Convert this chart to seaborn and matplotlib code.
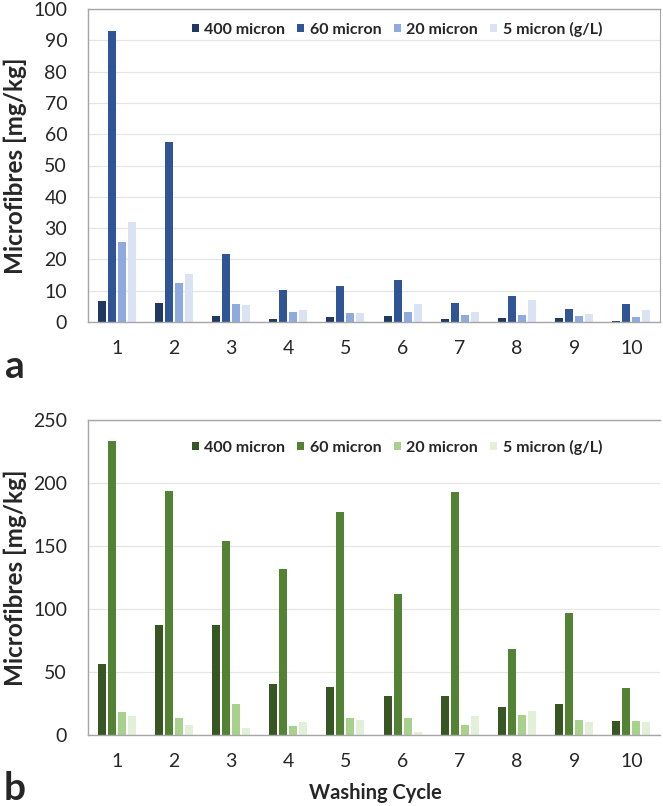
import numpy as np
import pandas as pd
import matplotlib
matplotlib.use("Agg")
import matplotlib.pyplot as plt
import seaborn as sns

# Datos
ciclos = ["1", "2", "3", "4", "5", "6", "7", "8", "9", "10"]
tamanos = ["400 micron", "60 micron", "20 micron", "5 micron (g/L)"]

a_400 = [6.6, 6.2, 1.9, 1.1, 1.7, 2.0, 0.9, 1.2, 1.2, 0.3]
a_60 = [93.0, 57.6, 21.6, 10.3, 11.4, 13.3, 6.2, 8.2, 4.2, 5.7]
a_20 = [25.6, 12.5, 5.7, 3.1, 2.8, 3.1, 2.3, 2.2, 1.9, 1.6]
a_5 = [31.9, 15.2, 5.3, 3.9, 2.9, 5.9, 3.3, 6.9, 2.6, 3.9]

b_400 = [56.6, 87.5, 87.5, 40.6, 37.9, 31.2, 31.2, 21.9, 24.5, 11.2]
b_60 = [233.0, 193.4, 154.2, 131.8, 176.9, 111.8, 192.9, 68.0, 97.1, 37.4]
b_20 = [17.9, 13.3, 24.8, 7.5, 13.3, 13.6, 8.0, 15.7, 12.0, 11.5]
b_5 = [15.2, 8.3, 5.9, 10.1, 12.0, 2.4, 14.9, 18.9, 10.7, 10.7]

azules = ["#203864", "#2F5597", "#8FAADC", "#DAE3F3"]
verdes = ["#375623", "#548235", "#A9D18E", "#E2F0D9"]


def to_long(series):
    rows = []
    for tam, vals in zip(tamanos, series):
        for c, v in zip(ciclos, vals):
            rows.append({"Ciclo": c, "Tamano": tam, "Valor": v})
    return pd.DataFrame(rows)


df_a = to_long([a_400, a_60, a_20, a_5])
df_b = to_long([b_400, b_60, b_20, b_5])

sns.set_style("white")
plt.rcParams["font.family"] = ["Lato", "DejaVu Sans"]

fig = plt.figure(figsize=(6.63, 8.06), dpi=100)
ax_a = fig.add_axes([88 / 663, 1 - 322 / 806, 572 / 663, 313 / 806])
ax_b = fig.add_axes([88 / 663, 1 - 735 / 806, 572 / 663, 315 / 806])

gris = "#A6A6A6"


def panel(ax, df, colores, ymax, paso, leg_y):
    sns.barplot(data=df, x="Ciclo", y="Valor", hue="Tamano", hue_order=tamanos,
                palette=colores, width=0.7, gap=0.2, ax=ax, saturation=1,
                errorbar=None, linewidth=0)
    ax.set_ylim(0, ymax)
    ax.set_xlim(-0.5, 9.5)
    ax.set_yticks(np.arange(0, ymax + 1, paso))
    ax.yaxis.grid(True, color="#E6E6E6", linewidth=0.9)
    ax.set_axisbelow(True)
    for lado in ["left", "bottom", "top"]:
        ax.spines[lado].set_color(gris)
        ax.spines[lado].set_linewidth(1.0)
    ax.spines["right"].set_visible(False)
    ax.tick_params(axis="y", length=5, color=gris, labelsize=14, pad=10)
    ax.tick_params(axis="x", length=0, labelsize=14, pad=13)
    ax.set_xlabel("")
    ax.set_ylabel("Microfibres [mg/kg]", fontsize=17.5, fontweight="bold")
    ax.yaxis.set_label_coords(-0.106, 0.5)

    handles, labels = ax.get_legend_handles_labels()
    ax.get_legend().remove()
    ax.legend(handles, labels, ncol=4, loc="center",
              bbox_to_anchor=(397 / 663, 1 - leg_y / 806),
              bbox_transform=fig.transFigure, frameon=False,
              handlelength=0.45, handleheight=0.45, handletextpad=0.35,
              columnspacing=0.75, prop={"weight": "bold", "size": 11.5})


panel(ax_a, df_a, azules, 100, 10, 29)
panel(ax_b, df_b, verdes, 250, 50, 447)
ax_a.spines["right"].set_visible(True)
ax_a.spines["right"].set_color(gris)

fig.text(15 / 663, 1 - 367 / 806, "a", fontsize=28, fontweight="bold",
         ha="center", va="center")
fig.text(15 / 663, 1 - 789 / 806, "b", fontsize=28, fontweight="bold",
         ha="center", va="center")
fig.text(375 / 663, 1 - 793 / 806, "Washing Cycle", fontsize=14.5,
         fontweight="bold", ha="center", va="center")

fig.savefig("out.png", dpi=100)
